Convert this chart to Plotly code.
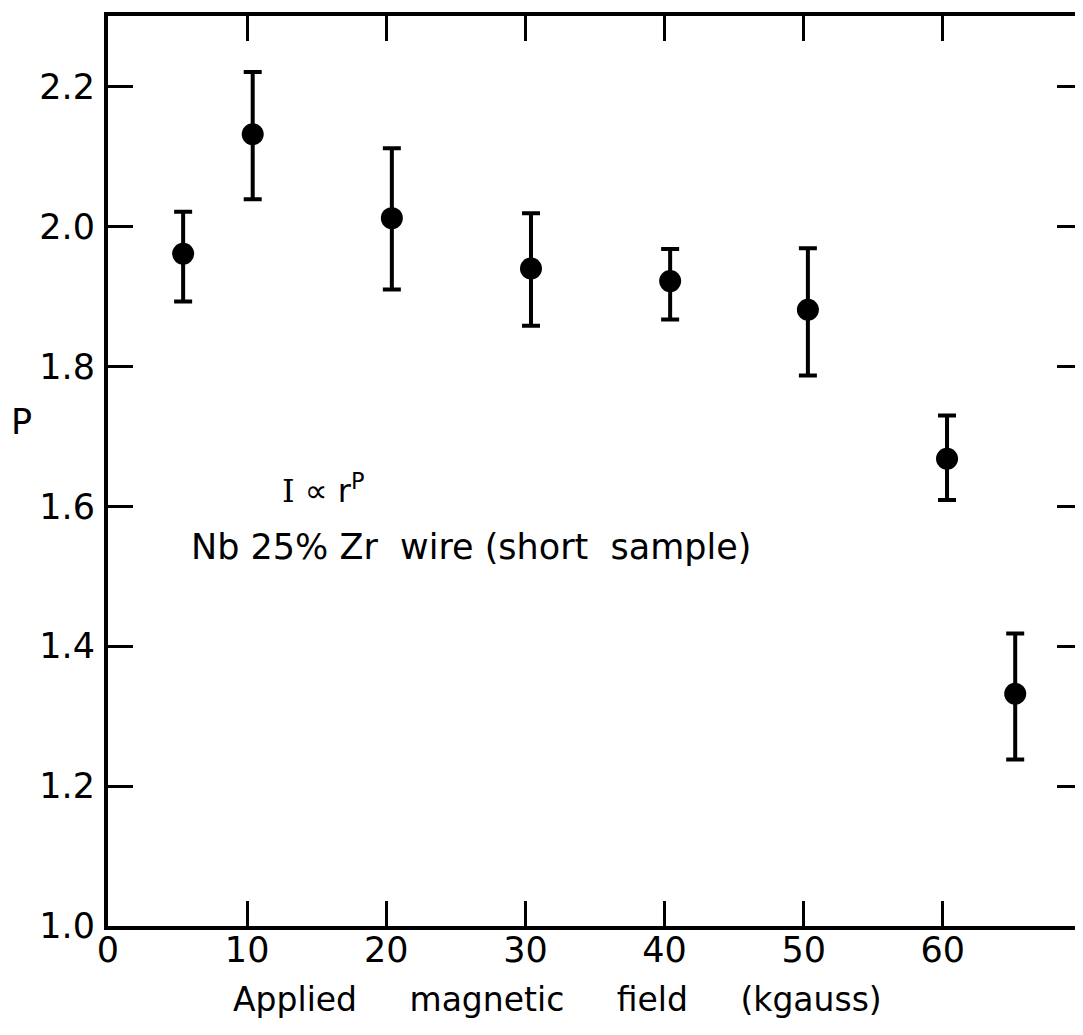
import plotly.graph_objects as go

# Data
field_kgauss = [5.4, 10.4, 20.4, 30.4, 40.4, 50.3, 60.3, 65.2]
p_value = [1.961, 2.132, 2.012, 1.940, 1.922, 1.881, 1.668, 1.332]
p_err_plus = [0.060, 0.089, 0.100, 0.079, 0.046, 0.088, 0.062, 0.086]
p_err_minus = [0.068, 0.093, 0.102, 0.082, 0.055, 0.094, 0.059, 0.094]

x_tick_vals = [0, 10, 20, 30, 40, 50, 60]
x_tick_text = ["0", "10", "20", "30", "40", "50", "60"]
y_tick_vals = [1.0, 1.2, 1.4, 1.6, 1.8, 2.0, 2.2]
y_tick_text = ["1.0", "1.2", "1.4", "1.6", "1.8", "2.0", "2.2"]

FONT = "DejaVu Sans, sans-serif"
NB = "\u00a0"

fig = go.Figure()
fig.add_trace(go.Scatter(
    x=field_kgauss, y=p_value, mode="markers",
    marker=dict(size=22, color="black", symbol="circle"),
    error_y=dict(type="data", symmetric=False, array=p_err_plus,
                 arrayminus=p_err_minus, color="black", thickness=4, width=9),
    showlegend=False,
))

axis_common = dict(
    showline=True, linewidth=4, linecolor="black", mirror="ticks",
    ticks="inside", ticklen=25, tickwidth=3, tickcolor="black",
    showgrid=False, zeroline=False,
    tickfont=dict(family=FONT, size=35, color="black"),
)

fig.update_xaxes(range=[0, 70], tickmode="array", tickvals=x_tick_vals,
                 ticktext=x_tick_text, ticklabelstandoff=-10, **axis_common)
fig.update_yaxes(range=[1.0, 2.301], tickmode="array", tickvals=y_tick_vals,
                 ticktext=y_tick_text, ticklabelstandoff=2, **axis_common)

fig.add_annotation(text="P", xref="paper", yref="paper", x=-0.0893, y=0.5536,
                   xanchor="center", yanchor="middle",
                   showarrow=False, font=dict(family=FONT, size=35, color="black"))
gap = NB * 5
fig.add_annotation(text=f"Applied{gap}magnetic{gap}field{gap}(kgauss)",
                   xref="paper", yref="paper", x=0.461, y=-0.081,
                   xanchor="center", yanchor="middle",
                   showarrow=False, font=dict(family=FONT, size=33, color="black"))
fig.add_annotation(text="<span style=\"font-family:'DejaVu Serif'\">I</span> \u221d r<sup>P</sup>",
                   x=15.5, y=1.625, showarrow=False,
                   xanchor="center", yanchor="middle",
                   font=dict(family=FONT, size=32, color="black"))
fig.add_annotation(text=f"Nb 25% Zr{NB}{NB}wire (short{NB}{NB}sample)", x=26.1, y=1.542,
                   xanchor="center", yanchor="middle",
                   showarrow=False, font=dict(family=FONT, size=35, color="black"))

# body of the html page adds an 8 px offset; margins compensate for it
fig.update_layout(
    width=1083, height=1035,
    margin=dict(l=100, r=9, t=4, b=117),
    plot_bgcolor="white", paper_bgcolor="white",
)

fig.write_html("out.html")
